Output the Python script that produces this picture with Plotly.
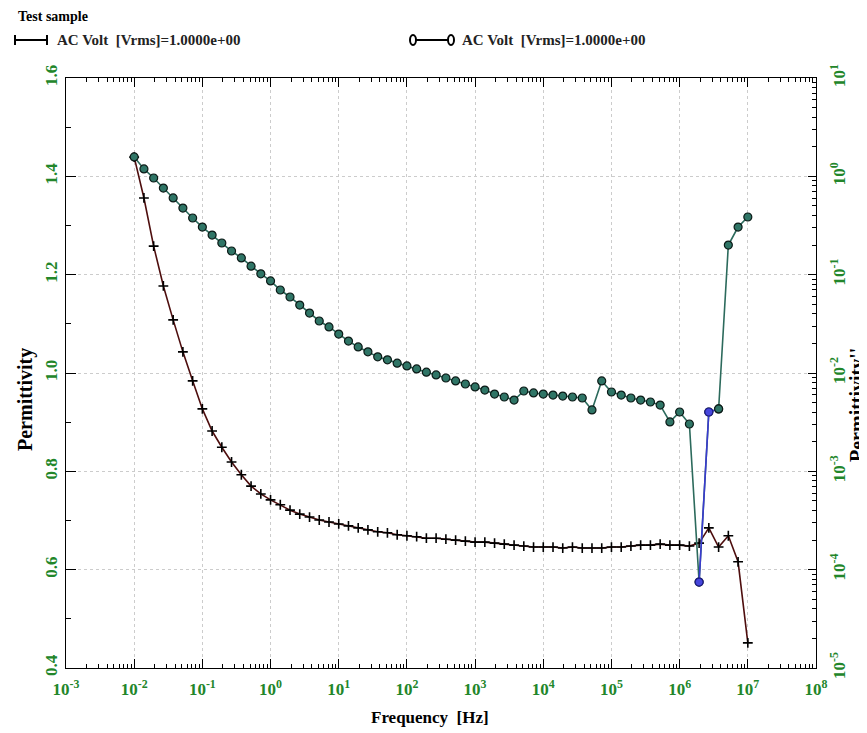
import plotly.graph_objects as go

# ---------------- data ----------------
freq = [
    0.01, 0.0139, 0.0193, 0.0268, 0.0373, 0.0518, 0.072,
    0.1, 0.139, 0.193, 0.268, 0.373, 0.518, 0.72,
    1, 1.39, 1.93, 2.68, 3.73, 5.18, 7.2,
    10, 13.9, 19.3, 26.8, 37.3, 51.8, 72,
    100, 139, 193, 268, 373, 518, 720,
    1e3, 1.39e3, 1.93e3, 2.68e3, 3.73e3, 5.18e3, 7.2e3,
    1e4, 1.39e4, 1.93e4, 2.68e4, 3.73e4, 5.18e4, 7.2e4,
    1e5, 1.39e5, 1.93e5, 2.68e5, 3.73e5, 5.18e5, 7.2e5,
    1e6, 1.39e6, 1.93e6, 2.68e6, 3.73e6, 5.18e6, 7.2e6,
    1e7,
]

permittivity = [
    1.439, 1.356, 1.258, 1.177, 1.108, 1.043, 0.984,
    0.927, 0.882, 0.849, 0.819, 0.793, 0.770, 0.754,
    0.742, 0.732, 0.721, 0.713, 0.707, 0.701, 0.697,
    0.693, 0.689, 0.685, 0.681, 0.677, 0.675, 0.671,
    0.669, 0.667, 0.664, 0.664, 0.662, 0.660, 0.658,
    0.656, 0.656, 0.654, 0.652, 0.650, 0.648, 0.646,
    0.646, 0.646, 0.644, 0.646, 0.644, 0.644, 0.644,
    0.646, 0.646, 0.648, 0.650, 0.650, 0.652, 0.650,
    0.650, 0.648, 0.654, 0.685, 0.646, 0.669, 0.616,
    0.451,
]

permittivity_loss = [
    1.574, 1.189, 0.962, 0.760, 0.603, 0.476, 0.377,
    0.305, 0.253, 0.210, 0.174, 0.148, 0.122, 0.102,
    0.0863, 0.0698, 0.0593, 0.0491, 0.0407, 0.0338, 0.0294,
    0.0249, 0.0211, 0.0184, 0.0164, 0.0146, 0.0136, 0.0126,
    0.0118, 0.0110, 0.0102, 0.00955, 0.00889, 0.00830, 0.00773,
    0.00721, 0.00671, 0.00611, 0.00570, 0.00531, 0.00656, 0.00627,
    0.00611, 0.00597, 0.00583, 0.00570, 0.00557, 0.00421, 0.00830,
    0.00641, 0.00597, 0.00557, 0.00531, 0.00507, 0.00472, 0.00318,
    0.00401, 0.00303, 7.48e-5, 0.00401, 0.00431, 0.200, 0.305,
    0.386,
]

dip_start, dip_end = 58, 61  # segment drawn in blue

x_decades = [-3, -2, -1, 0, 1, 2, 3, 4, 5, 6, 7, 8]
y2_decades = [-5, -4, -3, -2, -1, 0, 1]
legend_label = "AC Volt  [Vrms]=1.0000e+00"

# ---------------- figure ----------------
# the page places the figure 8 px in from the top-left corner
OFF = 8
W, H = 867 - OFF, 733 - OFF
L, T = 66 - OFF, 78 - OFF
R, B = W - (816 - OFF), H - (668 - OFF)
PW, PH = W - L - R, H - T - B


def px(xr):
    return (xr - OFF - L) / PW


def py(yr):
    return (H - B - (yr - OFF)) / PH


GREEN_TXT = "#22862a"
SERIF = "Liberation Serif, Times New Roman, serif"

fig = go.Figure()

fig.add_trace(go.Scatter(
    x=freq, y=permittivity, mode="lines+markers", yaxis="y",
    line=dict(color="#4e0e0e", width=1.6),
    marker=dict(symbol="cross-thin", size=7, line=dict(color="black", width=1.6)),
    showlegend=False, name="Permittivity",
))

fig.add_trace(go.Scatter(
    x=freq, y=permittivity_loss, mode="lines+markers", yaxis="y2",
    line=dict(color="#2c6a5c", width=1.6),
    marker=dict(symbol="circle", size=8, color="#2f7566",
                line=dict(color="#0c1a17", width=1.2)),
    showlegend=False, name="Permittivity''",
))

fig.add_trace(go.Scatter(
    x=freq[dip_start:dip_end], y=permittivity_loss[dip_start:dip_end],
    mode="lines+markers", yaxis="y2",
    line=dict(color="#3a3ad0", width=1.6),
    marker=dict(symbol="circle", size=8,
                color=["#4646dc", "#4646dc", "#2f7566"],
                line=dict(color=["#1c1c80", "#1c1c80", "#0c1a17"], width=1.2)),
    showlegend=False, name="dip",
))

minor_x = [m * 10 ** d for d in x_decades[:-1] for m in range(2, 10)]
minor_y2 = [m * 10 ** d for d in y2_decades[:-1] for m in range(2, 10)]

tickfont = dict(family=SERIF, size=17, color=GREEN_TXT, weight="bold")

fig.update_layout(
    width=W, height=H,
    margin=dict(l=L, r=R, t=T, b=B, autoexpand=False),
    paper_bgcolor="white", plot_bgcolor="white",
    font=dict(family=SERIF, color="black"),
    xaxis=dict(
        type="log", range=[-3, 8],
        tickvals=[10 ** d for d in x_decades],
        ticktext=["10<sup>%d</sup>" % d for d in x_decades],
        ticks="inside", ticklen=9, tickcolor="black",
        showline=True, linecolor="black", linewidth=1, mirror="ticks",
        showgrid=True, gridcolor="#cccccc", griddash="dot", gridwidth=1,
        minor=dict(tickvals=minor_x, ticks="inside", ticklen=4,
                   tickcolor="black", showgrid=False),
        tickfont=tickfont, ticklabelstandoff=6, zeroline=False,
    ),
    yaxis=dict(
        range=[0.4, 1.6], tick0=0.4, dtick=0.2, tickformat=".1f",
        ticks="inside", ticklen=10, tickcolor="black",
        showline=True, linecolor="black", linewidth=1,
        showgrid=True, gridcolor="#cccccc", griddash="dot", gridwidth=1,
        minor=dict(dtick=0.1, ticks="inside", ticklen=5,
                   tickcolor="black", showgrid=False),
        tickangle=-90, tickfont=tickfont, ticklabelstandoff=1, zeroline=False,
    ),
    yaxis2=dict(
        type="log", range=[-5, 1], overlaying="y", side="right",
        tickvals=[10 ** d for d in y2_decades],
        ticktext=["10<sup>%d</sup>" % d for d in y2_decades],
        ticks="inside", ticklen=8, tickcolor="black",
        showline=True, linecolor="black", linewidth=1,
        showgrid=False,
        minor=dict(tickvals=minor_y2, ticks="inside", ticklen=4,
                   tickcolor="black", showgrid=False),
        tickangle=-90, tickfont=tickfont, ticklabelstandoff=8,
        zeroline=False,
    ),
)

ann = []
ann.append(dict(text="<b>Test sample</b>", x=px(16), y=py(17), xref="paper", yref="paper",
                xanchor="left", yanchor="middle", showarrow=False,
                font=dict(family=SERIF, size=14, color="black")))
ann.append(dict(text="<b>" + legend_label + "</b>", x=px(55), y=py(40), xref="paper",
                yref="paper", xanchor="left", yanchor="middle", showarrow=False,
                font=dict(family=SERIF, size=15, color="#222222")))
ann.append(dict(text="<b>" + legend_label + "</b>", x=px(460), y=py(40), xref="paper",
                yref="paper", xanchor="left", yanchor="middle", showarrow=False,
                font=dict(family=SERIF, size=15, color="#222222")))
ann.append(dict(text="<b>Frequency  [Hz]</b>", x=px(430), y=py(717), xref="paper",
                yref="paper", xanchor="center", yanchor="middle", showarrow=False,
                font=dict(family=SERIF, size=17, color="black")))
ann.append(dict(text="<b>Permittivity</b>", x=px(25), y=py(400), xref="paper",
                yref="paper", xanchor="center", yanchor="middle", showarrow=False,
                textangle=-90, font=dict(family=SERIF, size=20, color="black")))
ann.append(dict(text="<b>Permittivity''</b>", x=px(857), y=py(405), xref="paper",
                yref="paper", xanchor="center", yanchor="middle", showarrow=False,
                textangle=-90, font=dict(family=SERIF, size=20, color="black")))

shapes = []
# legend symbol 1: line with bars at both ends
shapes.append(dict(type="line", xref="paper", yref="paper",
                   x0=px(15), x1=px(47), y0=py(40), y1=py(40),
                   line=dict(color="black", width=2)))
for xb in (15, 47):
    shapes.append(dict(type="line", xref="paper", yref="paper",
                       x0=px(xb), x1=px(xb), y0=py(35), y1=py(45),
                       line=dict(color="black", width=2)))
# legend symbol 2: line with circles at both ends
shapes.append(dict(type="line", xref="paper", yref="paper",
                   x0=px(416), x1=px(448), y0=py(40), y1=py(40),
                   line=dict(color="black", width=2)))
for xc in (413, 451):
    shapes.append(dict(type="circle", xref="paper", yref="paper",
                       x0=px(xc - 3), x1=px(xc + 3), y0=py(45), y1=py(35),
                       line=dict(color="black", width=2), fillcolor="white"))

fig.update_layout(annotations=ann, shapes=shapes)

fig.write_html("out.html")
